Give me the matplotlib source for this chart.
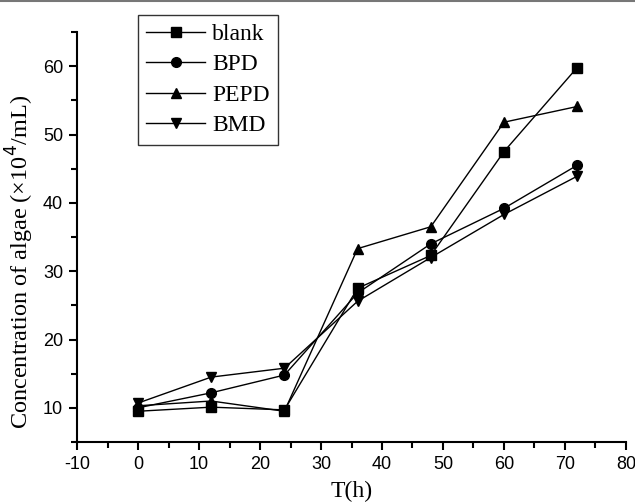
#!/usr/bin/env python3
"""Algae concentration over time for blank / BPD / PEPD / BMD."""

import matplotlib

matplotlib.use("Agg")
import matplotlib.pyplot as plt
from matplotlib.lines import Line2D
from matplotlib.ticker import MultipleLocator

plt.rcParams["axes.unicode_minus"] = False

HOURS = [0, 12, 24, 36, 48, 60, 72]
BLANK = [9.5, 10.1, 9.7, 27.5, 32.3, 47.5, 59.8]
BPD = [10.0, 12.2, 14.8, 26.8, 34.0, 39.2, 45.5]
PEPD = [10.3, 11.0, 9.5, 33.3, 36.5, 51.8, 54.1]
BMD = [10.7, 14.5, 15.8, 25.6, 32.0, 38.3, 43.9]

SERIES = [
    ("blank", BLANK, "s"),
    ("BPD", BPD, "o"),
    ("PEPD", PEPD, "^"),
    ("BMD", BMD, "v"),
]

SERIF = "Liberation Serif"
SANS = ["Liberation Sans Narrow", "Liberation Sans"]


def main() -> None:
    fig = plt.figure(figsize=(6.35, 5.04), dpi=100)
    ax = fig.add_axes([0.1213, 0.123, 0.8645, 0.8135])

    for label, ys, marker in SERIES:
        ax.plot(HOURS, ys, color="black", lw=1.0, marker=marker,
                ms=7, mfc="black", mec="black", label=label)

    ax.set_xlim(-10, 80)
    ax.set_ylim(5, 65)
    ax.xaxis.set_major_locator(MultipleLocator(10))
    ax.xaxis.set_minor_locator(MultipleLocator(5))
    ax.yaxis.set_major_locator(MultipleLocator(10))
    ax.yaxis.set_minor_locator(MultipleLocator(5))
    ax.set_yticks([10, 20, 30, 40, 50, 60])

    for side in ("top", "right"):
        ax.spines[side].set_visible(False)
    for side in ("left", "bottom"):
        ax.spines[side].set_linewidth(1.5)
    ax.tick_params(which="major", direction="out", length=6, width=1.5,
                   labelsize=13, pad=4)
    ax.tick_params(which="minor", direction="out", length=4, width=1.5)
    for lab in ax.get_xticklabels() + ax.get_yticklabels():
        lab.set_fontfamily(SANS)

    ax.set_xlabel("T(h)", fontfamily=SERIF, fontsize=17, labelpad=6)
    ax.set_ylabel("Concentration of algae (\u00d710$^{4}$/mL)",
                  fontfamily=SERIF, fontsize=17.5)
    ax.yaxis.set_label_coords(-0.075, 0.44)

    proxies = [Line2D([], [], color="black", lw=1.0, marker=m, ms=7)
               for _, _, m in SERIES]
    leg = fig.legend(proxies, [s[0] for s in SERIES],
                     loc="upper left", bbox_to_anchor=(138 / 635, 1 - 15 / 504),
                     prop={"family": SERIF, "size": 17},
                     frameon=True, fancybox=False, edgecolor="black",
                     handlelength=2.5, handletextpad=0.3, labelspacing=0.38,
                     borderpad=0.35, borderaxespad=0)
    leg.get_frame().set_linewidth(1.0)

    # thin grey rule along the top of the image
    fig.add_artist(Line2D([0, 1], [0.999, 0.999], transform=fig.transFigure,
                          color="#777777", lw=1.5))

    fig.savefig("out.png", dpi=100)


if __name__ == "__main__":
    main()
